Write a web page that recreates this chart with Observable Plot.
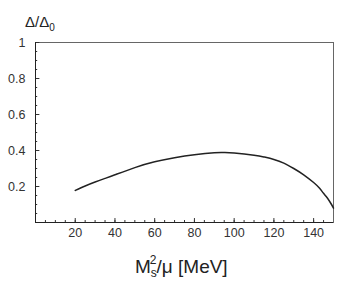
<!DOCTYPE html>
<html>
<head>
<meta charset="utf-8">
<script src="https://cdn.jsdelivr.net/npm/d3@7"></script>
<script src="https://cdn.jsdelivr.net/npm/@observablehq/plot@0.6"></script>
<style>
  html, body { margin: 0; padding: 0; background: #fff; }
  #chart { width: 341px; height: 291px; }
</style>
</head>
<body>
<div id="chart"></div>
<script>
const xs = [20, 25, 30, 35, 40, 50, 60, 70, 80, 90, 95, 100, 110, 115, 120, 125, 130, 135, 140, 143, 145, 147, 149, 150];
const ratio = [0.178, 0.203, 0.225, 0.245, 0.265, 0.305, 0.337, 0.360, 0.377, 0.388, 0.389, 0.386, 0.374, 0.364, 0.350, 0.330, 0.300, 0.265, 0.222, 0.190, 0.162, 0.135, 0.100, 0.080];
const xTicks = [20, 40, 60, 80, 100, 120, 140];
const yTicks = [0.2, 0.4, 0.6, 0.8, 1];
const xMinor = d3.range(5, 150, 5);
const yMinor = d3.range(0.05, 1, 0.05);

const data = xs.map((x, i) => ({x, y: ratio[i]}));
const font = "Liberation Sans, Arial, sans-serif";

const plot = Plot.plot({
  width: 341,
  height: 291,
  marginLeft: 35,
  marginRight: 8,
  marginTop: 42,
  marginBottom: 69,
  style: {fontFamily: font, fontSize: "12.5px", color: "#333", background: "#fff"},
  x: {domain: [0, 150]},
  y: {domain: [0, 1]},
  marks: [
    Plot.frame({stroke: "#666", strokeWidth: 1}),
    Plot.ruleX(xMinor, {y1: 0, y2: 0.011, stroke: "#333"}),
    Plot.ruleX(xTicks, {y1: 0, y2: 0.022, stroke: "#333"}),
    Plot.ruleY(yMinor, {x1: 0, x2: 1.1, stroke: "#333"}),
    Plot.ruleY(yTicks, {x1: 0, x2: 2.2, stroke: "#333"}),
    Plot.ruleX([0], {stroke: "#222"}),
    Plot.ruleY([0], {stroke: "#222"}),
    Plot.axisX({ticks: xTicks, tickFormat: d => d, tickSize: 0, tickPadding: 6, label: null, fontSize: 12.5}),
    Plot.axisY({ticks: yTicks, tickFormat: d => String(d), tickSize: 0, tickPadding: 10, label: null, fontSize: 12.5}),
    Plot.line(data, {x: "x", y: "y", stroke: "#222", strokeWidth: 1.5, curve: "natural"})
  ]
});
document.getElementById("chart").appendChild(plot);

const svg = d3.select(plot);
// y label: Δ/Δ0
const yl = svg.append("text")
  .attr("x", 25).attr("y", 27).attr("text-anchor", "start")
  .attr("font-family", font).attr("font-size", 15).attr("fill", "#222");
yl.append("tspan").text("Δ/Δ");
yl.append("tspan").attr("font-size", 10).attr("dy", 4).text("0");

// x label: M_s^2/μ [MeV]
const xl = svg.append("text")
  .attr("x", 135).attr("y", 273).attr("text-anchor", "start")
  .attr("font-family", font).attr("font-size", 19).attr("fill", "#222");
xl.append("tspan").text("M");
xl.append("tspan").attr("font-size", 12).attr("dy", 4).text("s");
xl.append("tspan").attr("font-size", 12).attr("dx", -7).attr("dy", -13).text("2");
xl.append("tspan").attr("dy", 9).text("/μ [MeV]");
</script>
</body>
</html>
